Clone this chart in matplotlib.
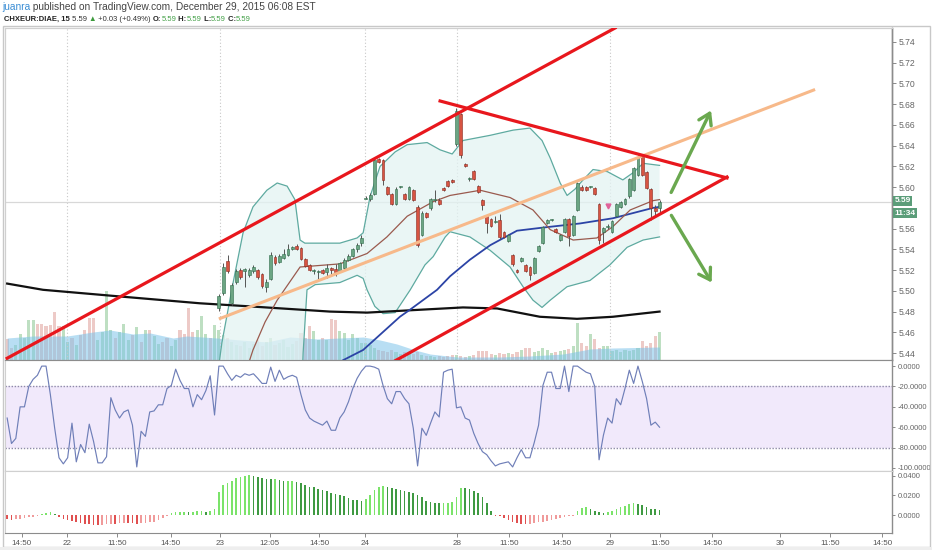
import matplotlib
matplotlib.use('Agg')
import matplotlib.pyplot as plt
import numpy as np
from matplotlib.patches import Rectangle

plt.rcParams['font.family'] = ['Liberation Sans', 'DejaVu Sans']

W, H = 932, 550

# ---------------- data ----------------
first_k = 49  # bar index of the first visible candle
opens = [5.483, 5.498, 5.529, 5.488, 5.509, 5.520, 5.519, 5.515, 5.519, 5.520,
         5.516, 5.504, 5.511, 5.533, 5.528, 5.532, 5.535, 5.540, 5.543, 5.541,
         5.531, 5.525, 5.519, 5.518, 5.520, 5.518, 5.522, 5.521, 5.519, 5.522,
         5.530, 5.534, 5.540, 5.546, 5.589, 5.589, 5.593, 5.627, 5.626, 5.600,
         5.593, 5.584, 5.600, 5.593, 5.589, 5.597, 5.581, 5.554, 5.575, 5.580,
         5.588, 5.588, 5.599, 5.606, 5.607, 5.642, 5.671, 5.622, 5.608, 5.616,
         5.601, 5.588, 5.572, 5.569, 5.566, 5.568, 5.557, 5.548, 5.535, 5.520,
         5.529, 5.525, 5.523, 5.517, 5.538, 5.546, 5.565, 5.568, 5.560, 5.549,
         5.557, 5.569, 5.554, 5.578, 5.600, 5.600, 5.600, 5.599, 5.584, 5.557,
         5.562, 5.557, 5.572, 5.581, 5.584, 5.591, 5.597, 5.612, 5.629, 5.615,
         5.598, 5.580, 5.580]
highs = [5.497, 5.527, 5.535, 5.508, 5.521, 5.522, 5.522, 5.522, 5.525, 5.521,
         5.517, 5.511, 5.537, 5.535, 5.536, 5.540, 5.545, 5.543, 5.545, 5.542,
         5.532, 5.526, 5.521, 5.520, 5.521, 5.526, 5.523, 5.526, 5.528, 5.532,
         5.536, 5.541, 5.546, 5.554, 5.591, 5.594, 5.628, 5.628, 5.627, 5.601,
         5.594, 5.600, 5.601, 5.594, 5.601, 5.598, 5.583, 5.577, 5.576, 5.590,
         5.597, 5.590, 5.600, 5.607, 5.608, 5.676, 5.672, 5.623, 5.610, 5.617,
         5.602, 5.589, 5.573, 5.570, 5.572, 5.574, 5.558, 5.555, 5.536, 5.521,
         5.533, 5.526, 5.524, 5.533, 5.544, 5.563, 5.569, 5.569, 5.561, 5.555,
         5.570, 5.570, 5.573, 5.605, 5.602, 5.601, 5.601, 5.600, 5.585, 5.562,
         5.564, 5.568, 5.585, 5.587, 5.590, 5.609, 5.619, 5.631, 5.631, 5.616,
         5.599, 5.583, 5.588]
lows = [5.481, 5.496, 5.517, 5.486, 5.507, 5.511, 5.504, 5.513, 5.517, 5.511,
        5.503, 5.499, 5.510, 5.525, 5.527, 5.531, 5.534, 5.539, 5.539, 5.530,
        5.523, 5.519, 5.516, 5.510, 5.516, 5.512, 5.514, 5.514, 5.518, 5.521,
        5.529, 5.533, 5.537, 5.543, 5.589, 5.587, 5.592, 5.623, 5.602, 5.592,
        5.583, 5.583, 5.599, 5.588, 5.588, 5.587, 5.542, 5.553, 5.570, 5.578,
        5.586, 5.583, 5.596, 5.600, 5.604, 5.640, 5.628, 5.619, 5.606, 5.607,
        5.594, 5.578, 5.556, 5.562, 5.565, 5.550, 5.551, 5.547, 5.524, 5.517,
        5.528, 5.518, 5.510, 5.516, 5.537, 5.545, 5.564, 5.567, 5.556, 5.548,
        5.556, 5.543, 5.553, 5.577, 5.596, 5.596, 5.599, 5.592, 5.545, 5.546,
        5.560, 5.556, 5.571, 5.580, 5.583, 5.590, 5.596, 5.611, 5.611, 5.598,
        5.568, 5.572, 5.575]
closes = [5.495, 5.523, 5.519, 5.506, 5.519, 5.513, 5.521, 5.520, 5.523, 5.513,
          5.505, 5.509, 5.535, 5.527, 5.534, 5.536, 5.540, 5.542, 5.540, 5.531,
          5.524, 5.520, 5.520, 5.519, 5.517, 5.522, 5.520, 5.518, 5.527, 5.530,
          5.534, 5.540, 5.544, 5.551, 5.590, 5.592, 5.626, 5.624, 5.607, 5.593,
          5.584, 5.598, 5.600, 5.589, 5.600, 5.588, 5.544, 5.575, 5.571, 5.589,
          5.588, 5.584, 5.597, 5.601, 5.605, 5.673, 5.631, 5.620, 5.608, 5.608,
          5.595, 5.583, 5.565, 5.563, 5.567, 5.552, 5.552, 5.554, 5.526, 5.518,
          5.532, 5.519, 5.515, 5.532, 5.543, 5.562, 5.568, 5.568, 5.557, 5.554,
          5.569, 5.553, 5.572, 5.604, 5.597, 5.597, 5.600, 5.593, 5.549, 5.561,
          5.562, 5.567, 5.584, 5.586, 5.589, 5.608, 5.618, 5.629, 5.612, 5.599,
          5.580, 5.577, 5.586]

volume = [21, 12, 15, 26, 22, 40, 40, 36, 36, 34, 35, 48, 34, 34, 18, 22, 15, 25, 30, 42,
          42, 20, 28, 69, 30, 22, 28, 36, 20, 25, 33, 18, 30, 30, 24, 16, 18, 22, 14, 20,
          30, 26, 52, 28, 30, 44, 26, 22, 35,
          30, 25, 22, 18, 15, 14, 18, 12, 16, 20, 14, 18, 22, 15, 17, 20, 13, 16, 19, 27,
          22, 34, 29, 20, 22, 20, 41, 40, 29, 27, 20, 26, 22, 17, 17, 15, 12, 10, 9, 8,
          10, 8, 6, 8, 7, 6, 8, 5, 4, 4, 3, 4, 3, 4, 5, 5, 4, 3, 4, 5,
          9, 9, 9, 6, 5, 7, 6, 7, 6, 8, 10, 12, 12, 8, 9, 12, 10, 7, 8, 9,
          10, 11, 14, 37, 17, 14, 26, 21, 12, 14, 14, 9, 10, 8, 10, 9, 10, 12, 19, 14,
          17, 24, 28]
vol_dir_early = "rrgggggrrrrrrggrgrrrrggggrgggrgrgrggrrggrrrrgggrg"

vol_ma_x = [0, 6, 13.9, 19.9, 23.8, 29.1, 33.1, 38.4, 41.6, 48.6, 53.9, 60.1, 65.5, 71.7,
            77.0, 82.4, 86.3, 90.2, 94.4, 97.9, 104.1, 114.1, 121.0, 128.7, 134.9, 140.2, 151]
vol_ma_y = [22, 24, 24, 28, 30, 26, 27, 22, 24, 22, 20, 18, 23, 21,
            22, 23, 20, 16, 10, 6, 3, 3, 4, 6, 11, 12, 13]

ma200_x = [0, 8.3, 27.7, 44.6, 56.2, 74.7, 83.3, 105.5, 113.4, 123.3, 131.9, 140.2, 151]
ma200_y = [5.507, 5.501, 5.494, 5.488, 5.485, 5.480, 5.479, 5.484, 5.483, 5.475, 5.473, 5.475, 5.480]

ma50_x = [74.7, 77.7, 82.4, 90.9, 93.3, 99.5, 102.5, 107.1, 111.8, 118.0, 124.0, 132.6, 140.2, 149.5, 151]
ma50_y = [5.425, 5.433, 5.443, 5.475, 5.482, 5.501, 5.514, 5.530, 5.544, 5.558, 5.561, 5.565, 5.570, 5.580, 5.581]

ma20_x = [55.1, 56.9, 59.7, 62.5, 67.8, 77.0, 83.3, 87.9, 92.6, 98.6, 102.5, 109.5, 116.4,
          121.7, 125.7, 131.0, 136.5, 140.2, 144.2, 149.5, 151]
ma20_y = [5.420, 5.443, 5.470, 5.491, 5.523, 5.526, 5.536, 5.552, 5.572, 5.586, 5.592, 5.597, 5.590,
          5.578, 5.559, 5.549, 5.551, 5.562, 5.578, 5.587, 5.588]

bb_up_x = [48.1, 49.7, 52.3, 54.6, 56.9, 60.1, 62.5, 64.8, 66.6, 67.8, 68.9, 77.0, 81.0, 82.4,
           84.0, 86.3, 89.8, 92.6, 97.2, 100.2, 103.0, 105.5, 111.8, 117.1, 121.0, 123.8, 125.7,
           128.0, 129.6, 131.4, 133.3, 135.6, 138.9, 142.5, 144.9, 147.2, 151]
bb_up_y = [5.400, 5.450, 5.508, 5.556, 5.581, 5.597, 5.604, 5.601, 5.588, 5.549, 5.546, 5.546, 5.551, 5.556,
           5.591, 5.620, 5.634, 5.641, 5.643, 5.636, 5.632, 5.645, 5.650, 5.655, 5.657, 5.645, 5.628,
           5.604, 5.592, 5.598, 5.607, 5.617, 5.615, 5.607, 5.614, 5.623, 5.621]
bb_lo_x = [48.1, 67.8, 68.5, 69.4, 71.3, 77.0, 81.0, 82.4, 83.3, 85.1, 87.0, 89.8, 93.3, 96.7,
           98.6, 101.4, 102.5, 107.1, 111.8, 116.4, 119.4, 121.7, 123.8, 125.7, 129.6, 134.9,
           139.5, 143.5, 147.2, 151]
bb_lo_y = [5.300, 5.360, 5.440, 5.501, 5.506, 5.508, 5.515, 5.512, 5.501, 5.485, 5.478, 5.479, 5.501, 5.525,
           5.533, 5.552, 5.557, 5.552, 5.539, 5.523, 5.504, 5.491, 5.484, 5.491, 5.504, 5.510,
           5.525, 5.542, 5.549, 5.552]

# drawings (bar index, price)
channel_up = ([0.0, 140.7], [5.435, 5.7535])
channel_lo = ([89.3, 166.6], [5.4314, 5.6098])
tri_top = ([100.2, 166.6], [5.6831, 5.6089])
orange_line = ([49.0, 187.0], [5.4729, 5.6942])
arrow_up = ([153.4, 163.2], [5.5925, 5.6764])
arrow_down = ([153.4, 163.4], [5.5751, 5.5057])
signal_k, signal_price = 139, 5.578

willr = [-51, -76, -71, -40, -40, -20, -13, -9, 0, 0, -28, -61, -90, -96, -90, -56, -94, -77, -85, -57,
         -74, -95, -95, -89, -31, -43, -51, -45, -43, -58, -99, -64, -69, -45, -44, -38, -38, -22, -19, -3,
         -14, -22, -22, -40, -28, -33, -24, -9.5, -48, 0, 0, -7.5, -14, -9, -11, -7.5, -9, -7.5, -12, -17,
         -17, -1, -15, -4, -13, -10.5, -9, -11, -28, -43, -51, -54, -56, -58, -54, -63, -63, -51, -45, -35,
         -22, -12, -5, 0, 0, -1, -3, -19, -32, -37, -25, -25, -32, -37, -61, -98, -61, -68, -56, -45,
         -50, -6, -4, -3, -41, -40, -51, -53, -66, -76, -84, -87, -93, -98, -96, -95, -94, -99, -90, -82,
         -90, -90, -75, -58, -19, -6, -6, -22, -22, 0, -25, 0, 0, -3, -6, -7.5, -20, -92, -68, -51,
         -56, -32, -38, -22, -4, -17, 0, -15, -32, -58, -55, -60]

hist = [-0.004, -0.0045, -0.004, -0.0035, -0.003, -0.002, -0.0015, -0.001, 0.001, 0.002,
        0.003, 0.001, -0.002, -0.004, -0.005, -0.006, -0.007, -0.008, -0.0085, -0.009,
        -0.0095, -0.0098, -0.0095, -0.009, -0.0085, -0.0085, -0.008, -0.0075, -0.0075, -0.008,
        -0.0085, -0.008, -0.0075, -0.007, -0.0065, -0.005, -0.003, -0.001, 0.002, 0.003,
        0.003, 0.0035, 0.003, 0.0035, 0.004, 0.004, 0.0035, 0.004, 0.006, 0.0235,
        0.030, 0.032, 0.035, 0.0375, 0.039, 0.040, 0.0405, 0.040, 0.039, 0.0375,
        0.037, 0.0366, 0.0366, 0.036, 0.035, 0.035, 0.035, 0.034, 0.032, 0.030,
        0.0288, 0.028, 0.0265, 0.0253, 0.024, 0.022, 0.021, 0.020, 0.019, 0.017,
        0.0155, 0.015, 0.0147, 0.016, 0.020, 0.025, 0.028, 0.029, 0.028, 0.027,
        0.026, 0.025, 0.024, 0.023, 0.022, 0.020, 0.018, 0.0147, 0.013, 0.0125,
        0.012, 0.012, 0.012, 0.013, 0.018, 0.0277, 0.027, 0.026, 0.024, 0.022,
        0.018, 0.012, 0.0042, -0.001, -0.001, -0.003, -0.005, -0.007, -0.008, -0.009,
        -0.009, -0.0088, -0.008, -0.007, -0.0065, -0.006, -0.005, -0.004, -0.003, -0.002,
        -0.001, -0.0005, 0.004, 0.007, 0.008, 0.006, 0.004, 0.003, 0.0025, 0.003,
        0.004, 0.0065, 0.008, 0.0095, 0.011, 0.012, 0.0115, 0.010, 0.008, 0.0065,
        0.006, 0.0053]

xtick_pos = [3.4, 13.9, 25.4, 37.9, 49.3, 60.8, 72.2, 82.8, 104.1, 116.2, 128.4, 139.5,
             151.1, 163.2, 178.9, 190.5, 202.5]
xtick_labels = ['14:50', '22', '11:50', '14:50', '23', '12:05', '14:50', '24', '28', '11:50',
                '14:50', '29', '11:50', '14:50', '30', '11:50', '14:50']
day_lines = [13.9, 49.3, 82.8, 104.1, 139.5]
price_ticks = [5.44, 5.46, 5.48, 5.50, 5.52, 5.54, 5.56, 5.58, 5.60, 5.62, 5.64, 5.66, 5.68, 5.70, 5.72, 5.74]
hidden_price_label = 5.58   # covered by the last-price tags in the original
wr_ticks = [0, -20, -40, -60, -80, -100]
hist_ticks = [0.0, 0.02, 0.04]
last_price = 5.5855
last_label = '5.59'
time_label = '11:34'

# ---------------- styles ----------------
UP = '#6ba583'
DN = '#d75442'
UP_E = '#2f6b4a'
DN_E = '#8a2a1f'
XLIM = (-0.5, 204.8)

fig = plt.figure(figsize=(W / 100, H / 100), dpi=100)
fig.patch.set_facecolor('white')


def pax(l, t, r, b, **kw):
    return fig.add_axes([l / W, 1 - b / H, (r - l) / W, (b - t) / H], **kw)


# outer frame
fig.add_artist(Rectangle((2.5 / W, 3 / H), 927 / W, 521 / H, transform=fig.transFigure,
                         fill=False, edgecolor='#c8c8c8', lw=1.0))
fig.add_artist(Rectangle((0, 0), 1, 3 / H, transform=fig.transFigure,
                         facecolor='#eeeeee', edgecolor='none'))

ax = pax(5, 28, 892, 360)
axv = ax.twinx()
ax.set_zorder(axv.get_zorder() + 1)
ax.patch.set_visible(False)
ax2 = pax(5, 360, 892, 471, sharex=ax)
ax3 = pax(5, 471, 892, 533, sharex=ax)

for a in (ax, ax2, ax3, axv):
    a.set_xlim(*XLIM)
    for s in ('left', 'top'):
        a.spines[s].set_color('#d0d0d0')
    for s in ('right', 'bottom'):
        a.spines[s].set_color('#8c8c8c')
    a.spines['right'].set_linewidth(1.0)

# ---- volume (behind) ----
n_total = len(volume)
vol_colors = []
for k in range(n_total):
    if k < first_k:
        up = vol_dir_early[k] == 'g'
    else:
        i = k - first_k
        up = closes[i] >= opens[i]
    vol_colors.append('#a8d5ae' if up else '#e8b9b5')
axv.bar(np.arange(n_total), volume, width=0.72, color=vol_colors, alpha=0.75, linewidth=0)
axv.fill_between(vol_ma_x, 0, vol_ma_y, color='#7ec4ea', alpha=0.55, linewidth=0)
axv.set_ylim(0, 332)
axv.set_yticks([])
axv.tick_params(axis='x', length=0, labelbottom=False)

# ---- main price panel ----
ax.set_ylim(5.4333, 5.7535)
for d in day_lines:
    ax.axvline(d, color='#c8c8c8', lw=0.8, ls=(0, (1, 2)), zorder=0)
ax.axhline(last_price, color='#d8d8d8', lw=0.9, zorder=0)

# bollinger fill + bands
ax.fill(np.concatenate([bb_up_x, bb_lo_x[::-1]]), np.concatenate([bb_up_y, bb_lo_y[::-1]]),
        color='#e3f3f2', alpha=0.75, lw=0, zorder=1)
ax.plot(bb_up_x, bb_up_y, color='#5eaaa0', lw=0.9, zorder=2)
ax.plot(bb_lo_x, bb_lo_y, color='#5eaaa0', lw=0.9, zorder=2)

ax.plot(ma200_x, ma200_y, color='#111111', lw=1.6, zorder=3)
ax.plot(ma50_x, ma50_y, color='#2c44a6', lw=1.3, zorder=3)
ax.plot(ma20_x, ma20_y, color='#9a5a4e', lw=0.9, zorder=3)

# candles
ks = np.arange(first_k, first_k + len(opens))
for k, o, h, l, c in zip(ks, opens, highs, lows, closes):
    up = c >= o
    ax.vlines(k, l, h, color='#555555', lw=0.7, zorder=4)
    bh = max(abs(c - o), 0.0009)
    ax.add_patch(Rectangle((k - 0.33, min(o, c)), 0.66, bh,
                           facecolor=UP if up else DN, edgecolor=UP_E if up else DN_E,
                           lw=0.4, zorder=5))

# drawings
ax.plot(*orange_line, color='#f7b98a', lw=2.2, zorder=6, solid_capstyle='butt')
ax.plot(*channel_up, color='#e8171d', lw=2.3, zorder=7)
ax.plot(*channel_lo, color='#e8171d', lw=2.3, zorder=7)
ax.plot(*tri_top, color='#e8171d', lw=2.3, zorder=7)
for arr in (arrow_up, arrow_down):
    ax.annotate('', xy=(arr[0][1], arr[1][1]), xytext=(arr[0][0], arr[1][0]),
                arrowprops=dict(arrowstyle='->,head_length=0.55,head_width=0.35',
                                color='#6aa84f', lw=2.4, mutation_scale=14), zorder=8)
ax.plot([signal_k], [signal_price + 0.004], marker='v', color='#e0629a', ms=3.5, zorder=8)

ax.yaxis.tick_right()
ax.set_yticks(price_ticks)
ax.set_yticklabels(['' if abs(p - hidden_price_label) < 1e-9 else f'{p:.2f}' for p in price_ticks])
ax.tick_params(axis='y', direction='out', length=3, width=0.6, labelsize=6.2,
               colors='#777777', labelcolor='#666666', pad=2)
ax.tick_params(axis='x', length=0, labelbottom=False)

# price label boxes
ytr = ax.get_yaxis_transform()
ax.text(1.003, last_price + 0.0012, last_label, transform=ytr, ha='left', va='center', fontsize=6.0,
        color='white', fontweight='bold', zorder=10, clip_on=False,
        bbox=dict(boxstyle='square,pad=0.18', facecolor='#5b9d79', edgecolor='none'))
ax.text(1.003, last_price - 0.0108, time_label, transform=ytr, ha='left', va='center', fontsize=6.0,
        color='white', fontweight='bold', zorder=10, clip_on=False,
        bbox=dict(boxstyle='square,pad=0.18', facecolor='#5b9d79', edgecolor='none'))

# ---- Williams %R panel ----
ax2.set_ylim(-103, 6)
ax2.axhspan(-80, -20, color='#f1e9fb', lw=0, zorder=0)
ax2.axhline(-20, color='#8e8aa8', lw=1.0, ls=(0, (1, 1.2)), zorder=1)
ax2.axhline(-80, color='#8e8aa8', lw=1.0, ls=(0, (1, 1.2)), zorder=1)
ax2.plot(np.arange(len(willr)), willr, color='#6f7fb8', lw=0.85, zorder=3)
ax2.yaxis.tick_right()
ax2.set_yticks(wr_ticks)
ax2.set_yticklabels([f'{v:.4f}' if v == 0 else f'-{abs(v):.4f}' for v in wr_ticks])
ax2.tick_params(axis='y', direction='out', length=2.5, width=0.6, labelsize=5.5,
                colors='#777777', labelcolor='#666666', pad=1.5)
ax2.tick_params(axis='x', length=0, labelbottom=False)

# ---- histogram panel ----
ax3.set_ylim(-0.0179, 0.0446)
hcols = []
for i, v in enumerate(hist):
    prev = hist[i - 1] if i > 0 else v
    if v >= 0:
        hcols.append('#7be36a' if v >= prev else '#3f9a42')
    else:
        hcols.append('#e05050' if v <= prev else '#f09a9a')
ax3.bar(np.arange(len(hist)), hist, width=0.38, color=hcols, linewidth=0)
ax3.yaxis.tick_right()
ax3.set_yticks(hist_ticks)
ax3.set_yticklabels([f'{v:.4f}' for v in hist_ticks])
ax3.tick_params(axis='y', direction='out', length=2.5, width=0.6, labelsize=5.5,
                colors='#777777', labelcolor='#666666', pad=1.5)
ax3.set_xticks(xtick_pos)
ax3.set_xticklabels(xtick_labels)
ax3.tick_params(axis='x', direction='out', length=3, width=0.6, labelsize=5.8,
                colors='#777777', labelcolor='#555555', pad=2)

# ---- header ----
renderer = fig.canvas.get_renderer()


def runs(x_px, y_px, pieces, size):
    x = x_px
    for s, color, weight in pieces:
        t = fig.text(x / W, 1 - y_px / H, s, ha='left', va='center', fontsize=size,
                     color=color, fontweight=weight)
        x += t.get_window_extent(renderer).width


runs(2, 7.5, [('juanra', '#3a8dd4', 'normal'),
              (' published on TradingView.com, December 29, 2015 06:08 EST', '#444444', 'normal')], 7.3)
G = '#43a047'
runs(4, 19.5, [('CHXEUR:DIAE, 15', '#222222', 'bold'),
               (' 5.59 ', '#333333', 'normal'),
               ('▲', '#3c9a3c', 'normal'),
               (' +0.03 (+0.49%) ', '#333333', 'normal'),
               ('O:', '#222222', 'bold'), ('5.59', G, 'normal'),
               (' H:', '#222222', 'bold'), ('5.59', G, 'normal'),
               (' L:', '#222222', 'bold'), ('5.59', G, 'normal'),
               (' C:', '#222222', 'bold'), ('5.59', G, 'normal')], 5.5)

fig.savefig('out.png', dpi=100, facecolor='white')
